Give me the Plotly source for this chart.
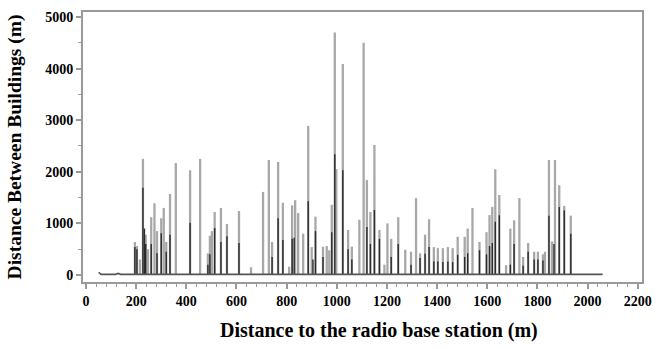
import plotly.graph_objects as go

# Gray (upper) spikes: distance to base station (m) and distance between buildings (m)
gray_x = [195, 203, 215, 227, 238, 247, 260, 273, 283, 300, 310, 320, 335, 358, 415, 455,
          486, 494, 502, 513, 538, 562, 610, 658, 706, 729, 742, 766, 785, 810, 822, 834,
          846, 866, 886, 900, 915, 945, 960, 970, 980, 992, 998, 1024, 1045, 1060, 1090,
          1107, 1120, 1134, 1150, 1170, 1190, 1202, 1217, 1245, 1273, 1296, 1316, 1332,
          1352, 1368, 1387, 1403, 1423, 1443, 1462, 1482, 1510, 1522, 1541, 1569, 1597,
          1609, 1620, 1632, 1648, 1675, 1692, 1707, 1728, 1743, 1763, 1787, 1802, 1822,
          1830, 1846, 1858, 1870, 1887, 1907, 1933]
gray_h = [640, 560, 300, 2250, 780, 500, 1120, 1390, 850, 1100, 1300, 640, 1570, 2170, 2030, 2250,
          420, 760, 850, 1220, 1300, 990, 1240, 150, 1610, 2230, 640, 2190, 1400, 160, 1350, 1450,
          1200, 800, 2890, 540, 1130, 550, 560, 480, 1360, 4700, 2050, 4090, 870, 550, 1070,
          4500, 1840, 1220, 2520, 870, 200, 1000, 700, 1120, 490, 450, 1490, 420,
          780, 1080, 540, 520, 520, 540, 520, 740, 740, 900, 1300, 640, 830,
          1160, 1320, 2050, 1550, 190, 900, 1060, 1490, 350, 620, 450, 450, 400,
          450, 2230, 650, 2230, 1740, 1340, 1150]

# Black (lower) spikes
black_x = [195, 203, 227, 233, 238, 260, 283, 300, 320, 335, 415, 486, 494, 513, 538, 562, 610,
           742, 766, 785, 822, 830, 886, 905, 915, 945, 980, 992, 1024, 1045, 1060, 1120,
           1134, 1150, 1170, 1217, 1245, 1296, 1332, 1352, 1368, 1387, 1403, 1423, 1443,
           1462, 1482, 1510, 1522, 1569, 1597, 1609, 1620, 1632, 1648, 1692, 1707, 1743,
           1763, 1787, 1802, 1822, 1846, 1866, 1887, 1907, 1933]
black_h = [540, 500, 1690, 900, 600, 600, 420, 810, 450, 780, 1010, 200, 400, 910, 640, 750, 620,
           350, 1100, 680, 700, 720, 1430, 300, 850, 350, 830, 2340, 2030, 500, 300, 930,
           600, 1260, 700, 350, 600, 200, 330, 410, 540, 260, 260, 250, 260,
           250, 390, 350, 420, 480, 400, 560, 620, 1030, 1160, 200, 600, 180,
           450, 300, 300, 280, 1150, 600, 1320, 1250, 800]

# Baseline near zero
base_x = [50, 53, 60, 118, 128, 138, 190, 2060]
base_y = [40, 40, 12, 12, 30, 12, 12, 12]

x_ticks = [0, 200, 400, 600, 800, 1000, 1200, 1400, 1600, 1800, 2000, 2200]
y_ticks = [0, 1000, 2000, 3000, 4000, 5000]


def spikes(xs, hs):
    px, py = [], []
    for x, h in zip(xs, hs):
        px += [x, x, None]
        py += [0, h, None]
    return px, py


fig = go.Figure()
gx, gy = spikes(gray_x, gray_h)
fig.add_trace(go.Scatter(x=gx, y=gy, mode="lines", line=dict(color="#a8a8a8", width=2.3),
                         hoverinfo="skip", showlegend=False))
bx, by = spikes(black_x, black_h)
fig.add_trace(go.Scatter(x=bx, y=by, mode="lines", line=dict(color="#2b2b2b", width=1.4),
                         hoverinfo="skip", showlegend=False))
fig.add_trace(go.Scatter(x=base_x, y=base_y, mode="lines", line=dict(color="#555555", width=1.6),
                         hoverinfo="skip", showlegend=False))

font_fam = "Liberation Serif, Times New Roman, serif"
fig.update_layout(
    width=661, height=349,
    margin=dict(l=83, r=19, t=12, b=67),
    paper_bgcolor="white", plot_bgcolor="white",
    font=dict(family=font_fam, color="black"),
    showlegend=False,
    annotations=[dict(
        text="<b>Distance to the radio base station (m)</b>",
        xref="paper", yref="paper", x=0.53, y=-0.178,
        xanchor="center", yanchor="middle", showarrow=False,
        font=dict(size=20, family=font_fam, color="black"),
    )],
)
fig.update_xaxes(
    range=[-12, 2217], tickvals=x_ticks, ticktext=[f"<b>{v}</b>" for v in x_ticks],
    tickfont=dict(size=14, family=font_fam, color="black"),
    showline=True, mirror=True, linecolor="#9a9a9a", linewidth=2,
    ticks="outside", ticklen=5, tickcolor="#9a9a9a", tickwidth=1.5,
    minor=dict(dtick=40, tick0=0, ticks="outside", ticklen=3, tickcolor="#9a9a9a", tickwidth=1),
    showgrid=False, zeroline=False,
    automargin=False,
)
fig.update_yaxes(
    range=[-136, 5097], tickvals=y_ticks, ticktext=[f"<b>{v}</b>" for v in y_ticks],
    tickfont=dict(size=14, family=font_fam, color="black"),
    showline=True, mirror=True, linecolor="#9a9a9a", linewidth=2,
    ticks="outside", ticklen=5, tickcolor="#9a9a9a", tickwidth=1.5,
    minor=dict(dtick=500, tick0=0, ticks="outside", ticklen=3, tickcolor="#9a9a9a", tickwidth=1),
    showgrid=False, zeroline=False,
    title=dict(text="<b>Distance Between Buildings (m)</b>",
               font=dict(size=19.5, family=font_fam, color="black"), standoff=18),
    automargin=False,
)

fig.write_html("out.html")
